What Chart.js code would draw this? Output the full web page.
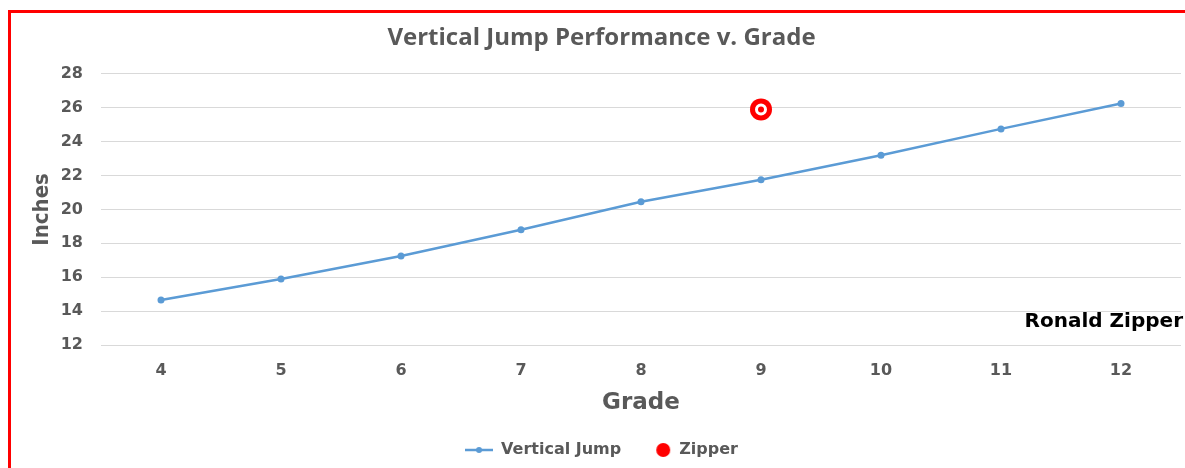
<!DOCTYPE html>
<html>
<head>
<meta charset="utf-8">
<script src="https://cdn.jsdelivr.net/npm/chart.js@4"></script>
<style>
  html, body { margin: 0; padding: 0; background: #fff; overflow: hidden; }
  #frame { position: absolute; left: 8px; top: 10px; width: 1300px; height: 600px; border: 3px solid #ff0000; }
  #wrap { position: absolute; left: 0; top: 0; width: 1202px; height: 468px; }
</style>
</head>
<body>
<div id="frame"></div>
<div id="wrap"><canvas id="jumpChart"></canvas></div>
<script>
// chart data
const grades = ['4', '5', '6', '7', '8', '9', '10', '11', '12'];
const verticalJump = [14.65, 15.9, 17.25, 18.8, 20.45, 21.75, 23.2, 24.75, 26.25];
const zipper = [null, null, null, null, null, 25.9, null, null, null];
const yTicks = [12, 14, 16, 18, 20, 22, 24, 26, 28];

const blue = '#5b9bd5';
const grey = '#595959';
const heavy = '"DejaVu Sans", "Liberation Sans", Arial, sans-serif';

// legend symbols
function lineSymbol() {
  const c = document.createElement('canvas');
  c.width = 28; c.height = 10;
  const g = c.getContext('2d');
  g.strokeStyle = blue; g.lineWidth = 2.5;
  g.beginPath(); g.moveTo(0, 5); g.lineTo(28, 5); g.stroke();
  g.fillStyle = blue;
  g.beginPath(); g.arc(14, 5, 3, 0, Math.PI * 2); g.fill();
  return c;
}
function dotSymbol() {
  const c = document.createElement('canvas');
  c.width = 28; c.height = 16;
  const g = c.getContext('2d');
  g.fillStyle = '#ff0000';
  g.beginPath(); g.arc(20, 8, 7, 0, Math.PI * 2); g.fill();
  return c;
}

// white ring inside the zipper marker + name label
const extras = {
  id: 'extras',
  afterDatasetsDraw(chart) {
    const ctx = chart.ctx;
    const meta = chart.getDatasetMeta(1);
    meta.data.forEach((pt, i) => {
      if (zipper[i] == null) return;
      ctx.save();
      ctx.strokeStyle = '#fff';
      ctx.lineWidth = 3;
      ctx.beginPath();
      ctx.arc(pt.x, pt.y, 4.5, 0, Math.PI * 2);
      ctx.stroke();
      ctx.restore();
    });
    ctx.save();
    ctx.font = 'bold 20px ' + heavy;
    ctx.fillStyle = '#000';
    ctx.textAlign = 'right';
    ctx.textBaseline = 'middle';
    ctx.fillText('Ronald Zipper', 1183, 322);
    ctx.restore();
  }
};

new Chart(document.getElementById('jumpChart'), {
  type: 'line',
  data: {
    labels: grades,
    datasets: [{
      label: 'Vertical Jump',
      data: verticalJump,
      borderColor: blue,
      backgroundColor: blue,
      borderWidth: 2.5,
      pointRadius: 3.5,
      pointBackgroundColor: blue,
      pointBorderWidth: 0,
      tension: 0
    }, {
      label: 'Zipper',
      data: zipper,
      showLine: false,
      pointRadius: 11,
      pointBackgroundColor: '#ff0000',
      pointBorderWidth: 0,
      backgroundColor: '#ff0000',
      borderColor: '#ff0000'
    }]
  },
  options: {
    responsive: true,
    maintainAspectRatio: false,
    animation: false,
    layout: { padding: { left: 22, right: 21, top: 0, bottom: 0 } },
    plugins: {
      title: {
        display: true,
        text: 'Vertical Jump Performance v. Grade',
        color: grey,
        font: { family: '"Open Sans", sans-serif', size: 24, weight: 'bold' },
        padding: { top: 24, bottom: 21 }
      },
      legend: {
        position: 'bottom',
        labels: {
          usePointStyle: true,
          pointStyleWidth: 28,
          padding: 22,
          color: grey,
          font: { family: heavy, size: 16, weight: 'bold' },
          generateLabels: (chart) => [
            { text: 'Vertical Jump', pointStyle: lineSymbol(), fillStyle: blue, strokeStyle: blue, lineWidth: 0, datasetIndex: 0, fontColor: grey },
            { text: 'Zipper', pointStyle: dotSymbol(), fillStyle: '#ff0000', strokeStyle: '#ff0000', lineWidth: 0, datasetIndex: 1, fontColor: grey }
          ]
        }
      },
      tooltip: { enabled: false }
    },
    scales: {
      x: {
        offset: true,
        grid: { display: false, drawTicks: false },
        border: { display: false },
        ticks: {
          color: grey,
          padding: 16,
          font: { family: heavy, size: 16, weight: 'bold' }
        },
        title: {
          display: true,
          text: 'Grade',
          color: grey,
          padding: { top: 0, bottom: 3 },
          font: { family: heavy, size: 23, weight: 'bold' }
        },
        afterFit: (scale) => { scale.height = 75; }
      },
      y: {
        min: 12,
        max: 28,
        afterBuildTicks: (scale) => { scale.ticks = yTicks.map(v => ({ value: v })); },
        grid: { color: '#d9d9d9', lineWidth: 1, drawTicks: false },
        border: { display: false },
        ticks: {
          color: grey,
          padding: 18,
          font: { family: heavy, size: 16, weight: 'bold' }
        },
        title: {
          display: true,
          text: 'Inches',
          color: grey,
          padding: { top: 7, bottom: 0 },
          font: { family: '"DejaVu Sans Condensed", ' + heavy, size: 22, weight: 'bold' }
        },
        afterFit: (scale) => { scale.width = 79; }
      }
    }
  },
  plugins: [extras]
});
</script>
</body>
</html>
